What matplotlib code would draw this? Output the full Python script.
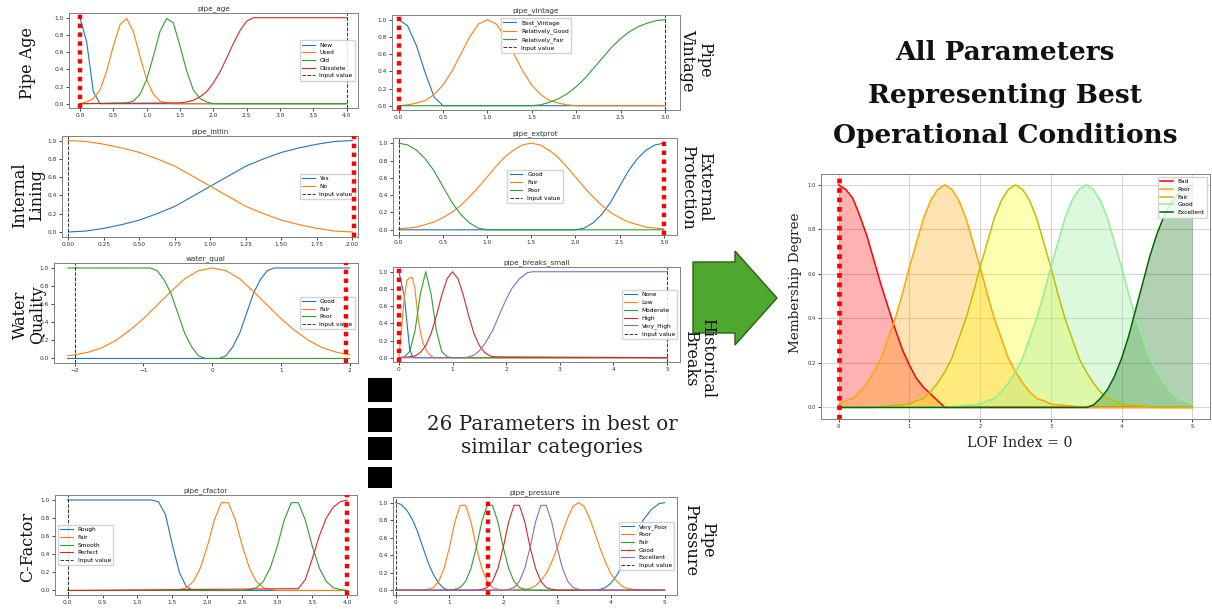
import matplotlib.pyplot as plt
from matplotlib.patches import Polygon, Rectangle

W, H = 1212, 609

# ---------------- data (membership curves) ----------------
# pipe_age
age_new = ([0.0, 0.1, 0.2, 0.3, 4.0], [1.0, 0.72, 0.14, 0.0, 0.0])
age_used = ([0.0, 0.1, 0.2, 0.3, 0.4, 0.5, 0.6, 0.7, 0.8, 0.9, 1.0, 1.1, 1.2, 1.3, 1.4, 4.0],
            [0.0, 0.02, 0.06, 0.16, 0.38, 0.67, 0.92, 0.99, 0.84, 0.55, 0.28, 0.11, 0.03, 0.01, 0.0, 0.0])
age_old = ([0.0, 0.7, 0.8, 0.9, 1.0, 1.1, 1.2, 1.3, 1.4, 1.5, 1.6, 1.7, 1.8, 1.9, 2.0, 4.0],
           [0.0, 0.01, 0.03, 0.11, 0.28, 0.55, 0.84, 0.99, 0.94, 0.67, 0.38, 0.16, 0.06, 0.02, 0.0, 0.0])
age_obsolete = ([0.0, 1.5, 1.6, 1.7, 1.8, 1.9, 2.0, 2.1, 2.2, 2.3, 2.4, 2.5, 2.6, 4.0],
                [0.0, 0.01, 0.02, 0.04, 0.08, 0.14, 0.24, 0.37, 0.53, 0.70, 0.85, 0.96, 1.0, 1.0])
age_names = ['New', 'Used', 'Old', 'Obsolete']

# pipe_vintage
vint_best = ([0.0, 0.1, 0.2, 0.3, 0.4, 0.5, 3.0], [1.0, 0.93, 0.7, 0.38, 0.1, 0.0, 0.0])
vint_good = ([0.0, 0.1, 0.2, 0.3, 0.4, 0.5, 0.6, 0.7, 0.8, 0.9, 1.0, 1.1, 1.2, 1.3, 1.4, 1.5, 1.6, 1.7, 1.8, 1.9, 2.0, 3.0],
             [0.0, 0.01, 0.03, 0.06, 0.13, 0.24, 0.40, 0.60, 0.80, 0.95, 1.0, 0.95, 0.80, 0.60, 0.40, 0.24, 0.13, 0.06, 0.03, 0.01, 0.0, 0.0])
vint_fair = ([0.0, 1.5, 1.6, 1.7, 1.8, 1.9, 2.0, 2.1, 2.2, 2.3, 2.4, 2.5, 2.6, 2.7, 2.8, 2.9, 3.0],
             [0.0, 0.0, 0.01, 0.04, 0.08, 0.14, 0.22, 0.32, 0.44, 0.56, 0.68, 0.78, 0.86, 0.92, 0.96, 0.99, 1.0])
vint_names = ['Best_Vintage', 'Relatively_Good', 'Relatively_Fair']

# pipe_intlin
intlin_x = [0.0, 0.125, 0.25, 0.375, 0.5, 0.625, 0.75, 0.875, 1.0, 1.125, 1.25, 1.375, 1.5, 1.625, 1.75, 1.875, 2.0]
intlin_yes = [0.0, 0.01, 0.04, 0.08, 0.13, 0.2, 0.28, 0.39, 0.5, 0.61, 0.72, 0.8, 0.87, 0.92, 0.96, 0.99, 1.0]
intlin_no = [1.0, 0.99, 0.96, 0.92, 0.87, 0.8, 0.72, 0.61, 0.5, 0.39, 0.28, 0.2, 0.13, 0.08, 0.04, 0.01, 0.0]
intlin_names = ['Yes', 'No']

# pipe_extprot
ext_good = ([0.0, 2.0, 2.1, 2.2, 2.3, 2.4, 2.5, 2.6, 2.7, 2.8, 2.9, 3.0],
            [0.0, 0.0, 0.02, 0.08, 0.18, 0.32, 0.5, 0.68, 0.82, 0.92, 0.98, 1.0])
ext_fair = ([0.0, 0.1, 0.2, 0.3, 0.4, 0.5, 0.6, 0.7, 0.8, 0.9, 1.0, 1.1, 1.2, 1.3, 1.4, 1.5,
             1.6, 1.7, 1.8, 1.9, 2.0, 2.1, 2.2, 2.3, 2.4, 2.5, 2.6, 2.7, 2.8, 2.9, 3.0],
            [0.01, 0.02, 0.03, 0.06, 0.09, 0.14, 0.2, 0.28, 0.38, 0.49, 0.61, 0.73, 0.84, 0.92, 0.98, 1.0,
             0.98, 0.92, 0.84, 0.73, 0.61, 0.49, 0.38, 0.28, 0.2, 0.14, 0.09, 0.06, 0.03, 0.02, 0.01])
ext_poor = ([0.0, 0.1, 0.2, 0.3, 0.4, 0.5, 0.6, 0.7, 0.8, 0.9, 1.0, 3.0],
            [1.0, 0.98, 0.92, 0.82, 0.68, 0.5, 0.32, 0.18, 0.08, 0.02, 0.0, 0.0])
ext_names = ['Good', 'Fair', 'Poor']

# water_qual
wq_good = ([-2.1, 0.1, 0.2, 0.3, 0.4, 0.5, 0.6, 0.7, 0.8, 0.9, 2.0],
           [0.0, 0.0, 0.03, 0.13, 0.28, 0.5, 0.72, 0.87, 0.97, 1.0, 1.0])
wq_fair = ([-2.1, -2.0, -1.8, -1.6, -1.4, -1.2, -1.0, -0.8, -0.6, -0.4, -0.2, 0.0,
            0.2, 0.4, 0.6, 0.8, 1.0, 1.2, 1.4, 1.6, 1.8, 2.0],
           [0.03, 0.04, 0.07, 0.12, 0.2, 0.31, 0.44, 0.59, 0.74, 0.88, 0.97, 1.0,
            0.97, 0.88, 0.74, 0.59, 0.44, 0.31, 0.2, 0.12, 0.07, 0.04])
wq_poor = ([-2.1, -0.9, -0.8, -0.7, -0.6, -0.5, -0.4, -0.3, -0.2, -0.1, 2.0],
           [1.0, 1.0, 0.97, 0.87, 0.72, 0.5, 0.28, 0.13, 0.03, 0.0, 0.0])
wq_names = ['Good', 'Fair', 'Poor']

# pipe_breaks_small
brk_none = ([0.0, 0.1, 0.2, 0.25, 0.3, 5.0], [1.0, 0.72, 0.1, 0.02, 0.0, 0.0])
brk_low = ([0.0, 0.05, 0.1, 0.15, 0.2, 0.25, 0.3, 0.35, 0.4, 0.45, 0.5, 0.55, 0.6, 0.65, 5.0],
           [0.0, 0.35, 0.7, 0.9, 0.93, 0.93, 0.8, 0.5, 0.3, 0.17, 0.1, 0.05, 0.02, 0.0, 0.0])
brk_mod = ([0.0, 0.1, 0.2, 0.3, 0.4, 0.5, 0.6, 0.7, 0.8, 0.9, 1.0, 5.0],
           [0.0, 0.01, 0.07, 0.31, 0.74, 1.0, 0.74, 0.31, 0.07, 0.01, 0.0, 0.0])
brk_high = ([0.0, 0.2, 0.3, 0.4, 0.5, 0.6, 0.7, 0.8, 0.9, 1.0, 1.1, 1.2, 1.3, 1.4, 1.5, 1.6, 1.7, 1.8, 5.0],
            [0.0, 0.01, 0.02, 0.06, 0.14, 0.28, 0.49, 0.73, 0.92, 1.0, 0.92, 0.73, 0.49, 0.28, 0.14, 0.06, 0.02, 0.01, 0.0])
brk_vhigh = ([0.0, 1.25, 1.4, 1.5, 1.6, 1.75, 1.9, 2.0, 2.1, 2.25, 2.4, 2.5, 5.0],
             [0.0, 0.0, 0.03, 0.08, 0.16, 0.32, 0.54, 0.68, 0.8, 0.92, 0.99, 1.0, 1.0])
brk_names = ['None', 'Low', 'Moderate', 'High', 'Very_High']

# pipe_cfactor
cf_rough = ([0.0, 1.2, 1.3, 1.4, 1.5, 1.6, 1.7, 1.8, 4.0], [1.0, 1.0, 0.98, 0.84, 0.5, 0.2, 0.04, 0.0, 0.0])
cf_fair = ([0.0, 1.5, 1.6, 1.7, 1.8, 1.9, 2.0, 2.1, 2.2, 2.3, 2.4, 2.5, 2.6, 2.7, 2.8, 2.9, 3.0, 4.0],
           [0.0, 0.0, 0.01, 0.03, 0.1, 0.25, 0.49, 0.78, 0.97, 0.97, 0.78, 0.49, 0.25, 0.1, 0.03, 0.01, 0.0, 0.0])
cf_smooth = ([0.0, 2.5, 2.6, 2.7, 2.8, 2.9, 3.0, 3.1, 3.2, 3.3, 3.4, 3.5, 3.6, 3.7, 3.8, 3.9, 4.0],
             [0.0, 0.0, 0.01, 0.03, 0.1, 0.25, 0.49, 0.78, 0.97, 0.97, 0.78, 0.49, 0.25, 0.1, 0.03, 0.01, 0.0])
cf_perfect = ([0.0, 3.3, 3.4, 3.5, 3.6, 3.7, 3.8, 3.9, 4.0],
              [0.0, 0.02, 0.12, 0.35, 0.6, 0.8, 0.92, 0.98, 1.0])
cf_names = ['Rough', 'Fair', 'Smooth', 'Perfect']

# pipe_pressure
pr_vpoor = ([0.0, 0.1, 0.2, 0.3, 0.4, 0.5, 0.6, 0.7, 0.8, 0.9, 1.0, 3.75, 3.9, 4.0, 4.1, 4.25, 4.4, 4.5, 4.6, 4.75, 4.9, 5.0],
            [1.0, 0.98, 0.92, 0.82, 0.68, 0.5, 0.32, 0.18, 0.08, 0.02, 0.0, 0.0, 0.03, 0.08, 0.16, 0.32, 0.54, 0.68, 0.8, 0.92, 0.99, 1.0])
pr_poor = ([0.0, 0.5, 0.6, 0.7, 0.8, 0.9, 1.0, 1.1, 1.2, 1.3, 1.4, 1.5, 1.6, 1.7, 1.8, 1.9, 2.0,
            2.4, 2.5, 2.6, 2.7, 2.8, 2.9, 3.0, 3.1, 3.2, 3.3, 3.4, 3.5, 3.6, 3.7, 3.8, 3.9, 4.0, 4.1, 4.2, 4.3, 4.4, 5.0],
           [0.0, 0.0, 0.01, 0.03, 0.1, 0.25, 0.49, 0.78, 0.97, 0.97, 0.78, 0.49, 0.25, 0.1, 0.03, 0.01, 0.0,
            0.01, 0.02, 0.05, 0.11, 0.19, 0.32, 0.48, 0.66, 0.83, 0.96, 1.0, 0.96, 0.83, 0.66, 0.48, 0.32, 0.19, 0.11, 0.05, 0.02, 0.01, 0.0])
pr_fair = ([0.0, 1.0, 1.1, 1.2, 1.3, 1.4, 1.5, 1.6, 1.7, 1.8, 1.9, 2.0, 2.1, 2.2, 2.3, 2.4, 2.5, 5.0],
           [0.0, 0.0, 0.01, 0.03, 0.1, 0.25, 0.49, 0.78, 0.97, 0.97, 0.78, 0.49, 0.25, 0.1, 0.03, 0.01, 0.0, 0.0])
pr_good = ([0.0, 1.5, 1.6, 1.7, 1.8, 1.9, 2.0, 2.1, 2.2, 2.3, 2.4, 2.5, 2.6, 2.7, 2.8, 2.9, 3.0, 5.0],
           [0.0, 0.0, 0.01, 0.03, 0.1, 0.25, 0.49, 0.78, 0.97, 0.97, 0.78, 0.49, 0.25, 0.1, 0.03, 0.01, 0.0, 0.0])
pr_exc = ([0.0, 2.0, 2.1, 2.2, 2.3, 2.4, 2.5, 2.6, 2.7, 2.8, 2.9, 3.0, 3.1, 3.2, 3.3, 3.4, 3.5, 5.0],
          [0.0, 0.0, 0.01, 0.03, 0.1, 0.25, 0.49, 0.78, 0.97, 0.97, 0.78, 0.49, 0.25, 0.1, 0.03, 0.01, 0.0, 0.0])
pr_names = ['Very_Poor', 'Poor', 'Fair', 'Good', 'Excellent']

# LOF output
lof_bad = ([0.0, 0.1, 0.2, 0.3, 0.4, 0.5, 0.6, 0.7, 0.8, 0.9, 1.0, 1.1, 1.2, 1.3, 1.4, 1.5, 5.0],
           [1.0, 0.98, 0.94, 0.86, 0.77, 0.66, 0.55, 0.45, 0.35, 0.26, 0.19, 0.13, 0.09, 0.06, 0.03, 0.0, 0.0])
lof_poor = ([0.0, 0.1, 0.2, 0.3, 0.4, 0.5, 0.6, 0.7, 0.8, 0.9, 1.0, 1.1, 1.2, 1.3, 1.4, 1.5,
             1.6, 1.7, 1.8, 1.9, 2.0, 2.1, 2.2, 2.3, 2.4, 2.5, 2.6, 2.7, 2.8, 2.9, 3.0, 3.5, 5.0],
            [0.015, 0.03, 0.04, 0.07, 0.11, 0.16, 0.22, 0.31, 0.40, 0.51, 0.63, 0.74, 0.85, 0.93, 0.98, 1.0,
             0.98, 0.93, 0.85, 0.74, 0.63, 0.51, 0.40, 0.31, 0.22, 0.16, 0.11, 0.07, 0.04, 0.03, 0.015, 0.0, 0.0])
lof_fair = ([0.0, 0.5, 1.0, 1.1, 1.2, 1.3, 1.4, 1.5, 1.6, 1.7, 1.8, 1.9, 2.0, 2.1, 2.2, 2.3, 2.4, 2.5,
             2.6, 2.7, 2.8, 2.9, 3.0, 3.1, 3.2, 3.3, 3.4, 3.5, 3.6, 3.7, 3.8, 3.9, 4.0, 4.5, 5.0],
            [0.0, 0.0, 0.015, 0.03, 0.04, 0.07, 0.11, 0.16, 0.22, 0.31, 0.40, 0.51, 0.63, 0.74, 0.85, 0.93, 0.98, 1.0,
             0.98, 0.93, 0.85, 0.74, 0.63, 0.51, 0.40, 0.31, 0.22, 0.16, 0.11, 0.07, 0.04, 0.03, 0.015, 0.0, 0.0])
lof_good = ([0.0, 1.5, 2.0, 2.1, 2.2, 2.3, 2.4, 2.5, 2.6, 2.7, 2.8, 2.9, 3.0, 3.1, 3.2, 3.3, 3.4, 3.5,
             3.6, 3.7, 3.8, 3.9, 4.0, 4.1, 4.2, 4.3, 4.4, 4.5, 4.6, 4.7, 4.8, 4.9, 5.0],
            [0.0, 0.0, 0.015, 0.03, 0.04, 0.07, 0.11, 0.16, 0.22, 0.31, 0.40, 0.51, 0.63, 0.74, 0.85, 0.93, 0.98, 1.0,
             0.98, 0.93, 0.85, 0.74, 0.63, 0.51, 0.40, 0.31, 0.22, 0.16, 0.11, 0.07, 0.04, 0.03, 0.015])
lof_exc = ([0.0, 3.5, 3.6, 3.7, 3.8, 3.9, 4.0, 4.1, 4.2, 4.3, 4.4, 4.5, 4.6, 4.7, 4.8, 4.9, 5.0],
           [0.0, 0.0, 0.01, 0.04, 0.08, 0.14, 0.22, 0.32, 0.44, 0.56, 0.68, 0.78, 0.86, 0.92, 0.96, 0.99, 1.0])
lof_names = ['Bad', 'Poor', 'Fair', 'Good', 'Excellent']
lof_lines = ['red', 'orange', 'y', 'lightgreen', 'darkgreen']
lof_fills = ['red', 'orange', 'yellow', 'lightgreen', 'darkgreen']

title_lines = ['All Parameters', 'Representing Best', 'Operational Conditions']
middle_text = '26 Parameters in best or\nsimilar categories'

fig = plt.figure(figsize=(12.12, 6.09), dpi=100)


def box(l, t, r, b):
    return [l / W, 1 - b / H, (r - l) / W, (b - t) / H]


def small_panel(rect, title, curves, names, xlim, ylim, xticks, input_x, red_x, loc):
    ax = fig.add_axes(box(*rect))
    for (xs, ys), name in zip(curves, names):
        ax.plot(xs, ys, lw=0.8, label=name)
    ax.axvline(input_x, color='#333333', ls='--', lw=0.7, label='Input value')
    ax.axvline(red_x, color='red', ls=(0, (1, 1)), lw=3.2, zorder=6)
    ax.set_xlim(*xlim)
    ax.set_ylim(*ylim)
    ax.set_xticks(xticks)
    ax.set_yticks([0.0, 0.2, 0.4, 0.6, 0.8, 1.0])
    ax.tick_params(labelsize=4.2, length=2, width=0.5, pad=1.5, labelcolor='#333333')
    ax.set_title(title, fontsize=5.2, pad=2, color='#333333')
    for s in ax.spines.values():
        s.set_color('#808080')
        s.set_linewidth(0.7)
    ax.legend(loc=loc, fontsize=4.2, handlelength=2.2, labelspacing=0.45,
              borderpad=0.4, framealpha=0.85)
    return ax


ylim_std = (-0.05, 1.055)
small_panel((69, 13, 358, 108), 'pipe_age', [age_new, age_used, age_old, age_obsolete], age_names,
            (-0.165, 4.17), ylim_std, [0, 0.5, 1, 1.5, 2, 2.5, 3, 3.5, 4], 4.0, 0.0, 'center right')
small_panel((392, 15, 680, 110), 'pipe_vintage', [vint_best, vint_good, vint_fair], vint_names,
            (-0.075, 3.17), ylim_std, [0, 0.5, 1, 1.5, 2, 2.5, 3], 3.0, 0.0, 'upper center')
small_panel((62, 136, 358, 237), 'pipe_intlin', [(intlin_x, intlin_yes), (intlin_x, intlin_no)], intlin_names,
            (-0.045, 2.04), (-0.055, 1.05), [0, 0.25, 0.5, 0.75, 1, 1.25, 1.5, 1.75, 2], 0.0, 2.01, 'center right')
small_panel((393, 138, 677, 235), 'pipe_extprot', [ext_good, ext_fair, ext_poor], ext_names,
            (-0.065, 3.15), (-0.06, 1.06), [0, 0.5, 1, 1.5, 2, 2.5, 3], 0.0, 3.0, 'center')
small_panel((54, 263, 358, 363), 'water_qual', [wq_good, wq_fair, wq_poor], wq_names,
            (-2.3, 2.12), ylim_std, [-2, -1, 0, 1, 2], -2.0, 1.95, 'center right')
small_panel((393, 267, 680, 362), 'pipe_breaks_small', [brk_none, brk_low, brk_mod, brk_high, brk_vhigh], brk_names,
            (-0.11, 5.24), ylim_std, [0, 1, 2, 3, 4, 5], 5.0, 0.0, 'center right')
small_panel((55, 495, 357, 595), 'pipe_cfactor', [cf_rough, cf_fair, cf_smooth, cf_perfect], cf_names,
            (-0.18, 4.14), ylim_std, [0, 0.5, 1, 1.5, 2, 2.5, 3, 3.5, 4], 0.0, 4.0, 'center left')
small_panel((393, 497, 677, 595), 'pipe_pressure', [pr_vpoor, pr_poor, pr_fair, pr_good, pr_exc], pr_names,
            (-0.05, 5.23), (-0.055, 1.065), [0, 1, 2, 3, 4, 5], 0.0, 1.72, 'center right')

# big output panel
ax = fig.add_axes(box(821, 174, 1210, 419))
for (xs, ys), name, lc, fc in zip([lof_bad, lof_poor, lof_fair, lof_good, lof_exc], lof_names, lof_lines, lof_fills):
    ax.fill_between(xs, 0, ys, color=fc, alpha=0.3, lw=0)
    ax.plot(xs, ys, color=lc, lw=1.1, label=name)
ax.axvline(0.0, color='red', ls=(0, (1, 1)), lw=3.4, zorder=6)
ax.set_xlim(-0.25, 5.25)
ax.set_ylim(-0.052, 1.049)
ax.set_xticks([0, 1, 2, 3, 4, 5])
ax.set_yticks([0.0, 0.2, 0.4, 0.6, 0.8, 1.0])
ax.grid(True, color='#d5d5d5', lw=0.8)
ax.set_axisbelow(True)
ax.tick_params(labelsize=3.8, length=2, width=0.5, pad=1.5, labelcolor='#333333')
for s in ax.spines.values():
    s.set_color('#808080')
    s.set_linewidth(0.7)
ax.legend(loc='upper right', fontsize=4.2, handlelength=2.2, labelspacing=0.45,
          borderpad=0.4, framealpha=0.85)

serif = 'DejaVu Serif'
fig.text(795 / W, 1 - 283 / H, 'Membership Degree', rotation=90, ha='center', va='center',
         family=serif, fontsize=9.7, color='#222222')
fig.text(1020 / W, 1 - 443 / H, 'LOF Index = 0', ha='center', va='center',
         family=serif, fontsize=10.2, color='#222222')

for line, yy in zip(title_lines, [53, 95, 135]):
    fig.text(1005 / W, 1 - yy / H, line, ha='center', va='center',
             family=serif, fontsize=19, fontweight='bold', color='#111111')

fig.text(552 / W, 1 - 436 / H, middle_text, ha='center', va='center', multialignment='center',
         family=serif, fontsize=14.3, linespacing=1.25, color='#222222')

# side labels
side_labels = ['Pipe Age', 'Pipe\nVintage', 'Internal\nLining', 'External\nProtection',
               'Water\nQuality', 'Historical\nBreaks', 'C-Factor', 'Pipe\nPressure']
side_pos = [(28, 63, 90), (696, 60, 270), (28, 195, 90), (696, 187, 270),
            (29, 315, 90), (699, 358, 270), (28, 547, 90), (699, 540, 270)]
for txt, (sx, sy, rot) in zip(side_labels, side_pos):
    fig.text(sx / W, 1 - sy / H, txt, rotation=rot, ha='center', va='center', multialignment='center',
             family=serif, fontsize=11.5, color='#111111', linespacing=1.05)

# green arrow
arrow_px = [(693, 262), (735, 262), (735, 251), (777, 298), (735, 345), (735, 333), (693, 333)]
fig.patches.append(Polygon([(x / W, 1 - y / H) for x, y in arrow_px], closed=True,
                           facecolor='#4ea72e', edgecolor='#2c5e1a', lw=1.0,
                           transform=fig.transFigure, figure=fig))

# black squares
for top, hgt in [(378, 24), (408, 24), (437, 23), (467, 21)]:
    fig.patches.append(Rectangle((368 / W, 1 - (top + hgt) / H), 24 / W, hgt / H,
                                 facecolor='black', edgecolor='none',
                                 transform=fig.transFigure, figure=fig))

fig.savefig('out.png', dpi=100)
